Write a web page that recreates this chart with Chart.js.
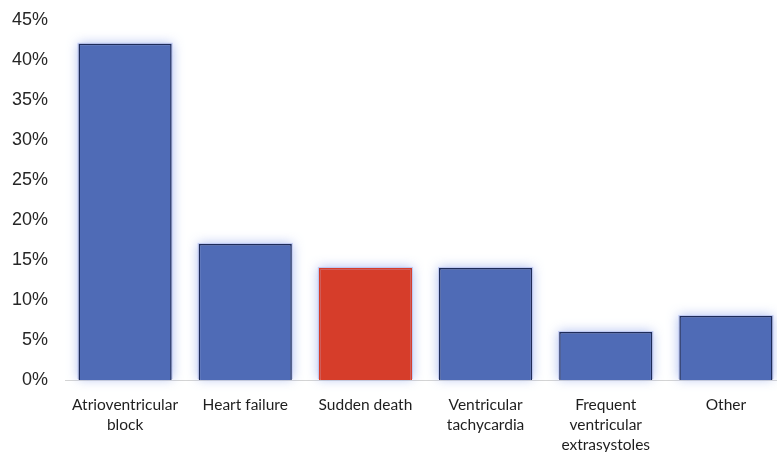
<!DOCTYPE html>
<html>
<head>
<meta charset="utf-8">
<script src="https://cdn.jsdelivr.net/npm/chart.js@4/dist/chart.umd.min.js"></script>
<style>
  html, body { margin: 0; padding: 0; background: #ffffff; overflow: hidden; }
  #wrap { position: relative; width: 786px; height: 452px; }
</style>
</head>
<body>
<div id="wrap"><canvas id="chart"></canvas></div>
<script>
// Causes of events, share of patients (%)
const categories = [
  ['Atrioventricular', 'block'],
  'Heart failure',
  'Sudden death',
  ['Ventricular', 'tachycardia'],
  ['Frequent', 'ventricular', 'extrasystoles'],
  'Other'
];
const shares = [42, 17, 14, 14, 6, 8];
const highlightIndex = 2;

const blueFill = '#4f6bb6';
const blueEdge = '#1e2c5a';
const redFill = '#d63d2a';

// Soft light-blue halo painted behind each bar
const glowPlugin = {
  id: 'barGlow',
  beforeDatasetsDraw(chart) {
    const ctx = chart.ctx;
    const meta = chart.getDatasetMeta(0);
    ctx.save();
    ctx.shadowColor = 'rgba(150,170,235,0.85)';
    ctx.shadowBlur = 11;
    ctx.fillStyle = 'rgba(190,200,242,0.9)';
    meta.data.forEach(bar => {
      const p = bar.getProps(['x', 'y', 'base', 'width'], true);
      const top = Math.min(p.y, p.base);
      const h = Math.abs(p.base - p.y);
      ctx.fillRect(p.x - p.width / 2 - 1, top - 1, p.width + 2, h);
    });
    ctx.restore();
  }
};

new Chart(document.getElementById('chart'), {
  type: 'bar',
  data: {
    labels: categories,
    datasets: [{
      data: shares,
      backgroundColor: shares.map((_, i) => i === highlightIndex ? redFill : blueFill),
      borderColor: shares.map((_, i) => i === highlightIndex ? redFill : blueEdge),
      borderWidth: 1.5,
      barPercentage: 0.775,
      categoryPercentage: 1
    }]
  },
  options: {
    responsive: true,
    maintainAspectRatio: false,
    animation: false,
    layout: { padding: { top: 15.5, left: 0, right: 0, bottom: 0 } },
    plugins: {
      legend: { display: false },
      tooltip: { enabled: false }
    },
    scales: {
      x: {
        grid: { display: false },
        border: { display: true, color: '#d4d4d4', width: 1 },
        ticks: {
          color: '#1e1e1e',
          font: { family: 'Lato', size: 15.5, lineHeight: 1.29 },
          padding: 7,
          maxRotation: 0,
          autoSkip: false
        },
        afterFit(scale) { scale.height = 72; }
      },
      y: {
        min: 0,
        max: 45,
        grid: { display: false },
        border: { display: false },
        ticks: {
          stepSize: 5,
          color: '#262626',
          font: { family: 'Liberation Sans', size: 18 },
          padding: 9,
          callback: v => v + '%'
        },
        afterFit(scale) { scale.width = 65; }
      }
    }
  },
  plugins: [glowPlugin]
});
</script>
</body>
</html>
